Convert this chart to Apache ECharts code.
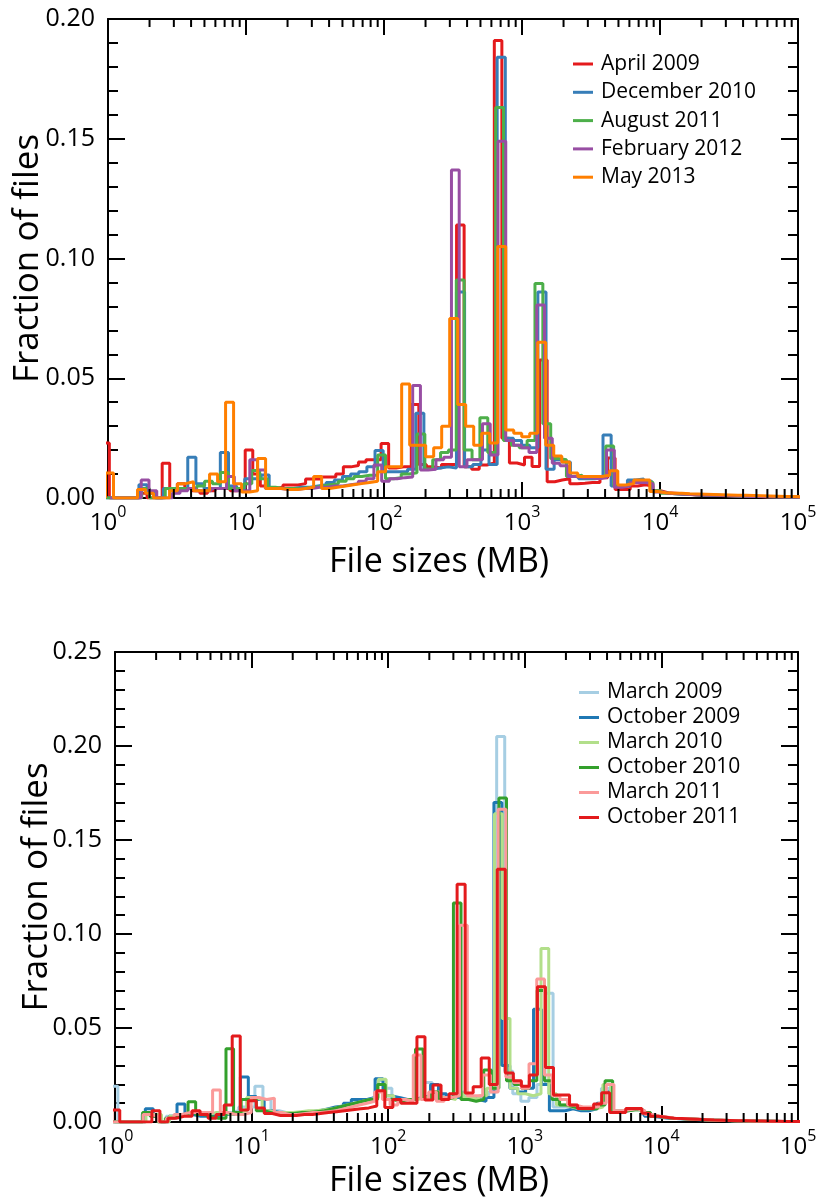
<!DOCTYPE html>
<html>
<head>
<meta charset="utf-8">
<script src="https://cdn.jsdelivr.net/npm/echarts@6/dist/echarts.min.js"></script>
<style>
  html, body { margin: 0; padding: 0; background: #fff; }
  #chart { width: 821px; height: 1203px; }
</style>
</head>
<body>
<div id="chart"></div>
<script>
// ---- Upper panel: file-size histograms (fraction of files per log bin) ----
const topNames = ['April 2009', 'December 2010', 'August 2011', 'February 2012', 'May 2013'];
// first bin edge (log10 MB) and bin width (decades) of each histogram
const topBinStart = [-0.045, -0.012, -0.041, 0.016, -0.018];
const topBinWidth = [0.0547, 0.059, 0.057, 0.0562, 0.058];

const april2009 = [
  0.023, 0, 0, 0, 0, 0.002, 0, 0, 0.0145, 0.003,
  0.006, 0.004, 0.003, 0.002, 0.003, 0.004, 0.004, 0.003, 0.004, 0.020,
  0.010, 0.005, 0.004, 0.0045, 0.0054, 0.0054, 0.006, 0.0079, 0.0079, 0.0088,
  0.0088, 0.010, 0.013, 0.0136, 0.015, 0.016, 0.016, 0.0228, 0.0125, 0.013,
  0.013, 0.039, 0.014, 0.013, 0.0125, 0.014, 0.014, 0.114, 0.013, 0.012,
  0.0138, 0.0146, 0.191, 0.025, 0.0146, 0.0138, 0.017, 0.0132, 0.0576, 0.0068,
  0.0075, 0.008, 0.006, 0.0062, 0.0065, 0.0065, 0.0085, 0.0167, 0.0035, 0.0035,
  0.005, 0.0055, 0.005, 0.003, 0.0022, 0.002, 0.0018, 0.0015, 0.0013, 0.0012,
  0.001, 0.001, 0.0009, 0.0008, 0.0007, 0.0006, 0.0006, 0.0005, 0.0005, 0.0004,
  0.0004, 0.0003
];
const december2010 = [
  0, 0, 0, 0, 0.0055, 0.002, 0, 0.004, 0.003, 0.004,
  0.017, 0.006, 0.004, 0.004, 0.019, 0.005, 0.004, 0.008, 0.008, 0.0096,
  0.004, 0.004, 0.004, 0.0045, 0.0045, 0.005, 0.0055, 0.0065, 0.0075, 0.009,
  0.010, 0.011, 0.013, 0.0198, 0.011, 0.011, 0.011, 0.012, 0.0354, 0.012,
  0.0125, 0.013, 0.0125, 0.086, 0.013, 0.014, 0.020, 0.014, 0.184, 0.025,
  0.024, 0.022, 0.021, 0.086, 0.012, 0.016, 0.015, 0.009, 0.008, 0.008,
  0.0085, 0.0263, 0.005, 0.005, 0.0075, 0.0079, 0.007, 0.0027, 0.002, 0.0018,
  0.0016, 0.0015, 0.0013, 0.0012, 0.0011, 0.001, 0.0009, 0.0008, 0.0007, 0.0006,
  0.0006, 0.0005, 0.0005, 0.0004, 0.0004
];
const august2011 = [
  0, 0, 0, 0, 0, 0.004, 0, 0, 0.004, 0.004,
  0.004, 0.004, 0.005, 0.007, 0.006, 0.0106, 0.004, 0.004, 0.006, 0.0115,
  0.008, 0.0045, 0.004, 0.004, 0.004, 0.0042, 0.0045, 0.005, 0.0055, 0.006,
  0.007, 0.008, 0.009, 0.0095, 0.0095, 0.018, 0.008, 0.0085, 0.010, 0.0105,
  0.0267, 0.012, 0.016, 0.019, 0.020, 0.091, 0.020, 0.016, 0.0335, 0.019,
  0.163, 0.024, 0.022, 0.021, 0.024, 0.0896, 0.031, 0.0165, 0.016, 0.009,
  0.0095, 0.0085, 0.0085, 0.009, 0.0217, 0.005, 0.005, 0.0065, 0.007, 0.0065,
  0.003, 0.002, 0.0018, 0.0016, 0.0015, 0.0013, 0.0012, 0.0011, 0.001, 0.0009,
  0.0008, 0.0007, 0.0006, 0.0006, 0.0005, 0.0005, 0.0004, 0.0004, 0.0003
];
const february2012 = [
  0, 0, 0, 0, 0.0075, 0.003, 0, 0, 0.002, 0.003,
  0.004, 0.003, 0.003, 0.004, 0.004, 0.009, 0.003, 0.003, 0.016, 0.0117,
  0.004, 0.004, 0.0035, 0.0035, 0.004, 0.004, 0.0045, 0.0045, 0.005, 0.005,
  0.0055, 0.006, 0.007, 0.008, 0.0138, 0.007, 0.008, 0.0085, 0.0088, 0.047,
  0.0117, 0.012, 0.016, 0.017, 0.137, 0.013, 0.016, 0.016, 0.031, 0.018,
  0.149, 0.024, 0.022, 0.021, 0.019, 0.0806, 0.025, 0.0145, 0.0135, 0.009,
  0.0085, 0.0085, 0.008, 0.0085, 0.020, 0.0045, 0.005, 0.0065, 0.0065, 0.006,
  0.0025, 0.002, 0.0018, 0.0016, 0.0015, 0.0013, 0.0012, 0.0011, 0.001, 0.0009,
  0.0008, 0.0007, 0.0006, 0.0006, 0.0005, 0.0005, 0.0004, 0.0004, 0.0003
];
const may2013 = [
  0.0104, 0, 0, 0, 0.0035, 0.002, 0, 0, 0.003, 0.006,
  0.0068, 0.003, 0.003, 0.010, 0.0068, 0.040, 0.006, 0.0025, 0.003, 0.0165,
  0.004, 0.004, 0.0035, 0.0035, 0.004, 0.0045, 0.009, 0.004, 0.0045, 0.005,
  0.0055, 0.006, 0.0065, 0.007, 0.011, 0.013, 0.013, 0.0476, 0.022, 0.022,
  0.0172, 0.021, 0.030, 0.075, 0.039, 0.030, 0.022, 0.027, 0.023, 0.105,
  0.0284, 0.027, 0.0256, 0.027, 0.065, 0.022, 0.0175, 0.015, 0.0104, 0.009,
  0.009, 0.009, 0.0095, 0.0114, 0.0054, 0.006, 0.0075, 0.0075, 0.0027, 0.0022,
  0.002, 0.002, 0.0018, 0.0017, 0.0016, 0.0015, 0.0014, 0.0013, 0.0012, 0.0011,
  0.001, 0.0009, 0.0008, 0.0007, 0.0006, 0.0006, 0.0005
];
const topValues = [april2009, december2010, august2011, february2012, may2013];
const topColors = ['#e41a1c', '#377eb8', '#4daf4a', '#984ea3', '#ff7f00'];

// ---- Lower panel ----
const bottomNames = ['March 2009', 'October 2009', 'March 2010', 'October 2010', 'March 2011', 'October 2011'];
const bottomBinStart = [-0.038, -0.01, 0.0, -0.02, -0.02, -0.024];
const bottomBinWidth = [0.059, 0.058, 0.0567, 0.0555, 0.0565, 0.0588];

const march2009 = [
  0.019, 0, 0, 0, 0.004, 0.004, 0, 0.003, 0.004, 0.004,
  0.005, 0.004, 0.004, 0.005, 0.005, 0.006, 0.008, 0.008, 0.019, 0.012,
  0.006, 0.005, 0.005, 0.005, 0.0055, 0.006, 0.0065, 0.0075, 0.008, 0.0095,
  0.011, 0.012, 0.013, 0.022, 0.018, 0.013, 0.012, 0.012, 0.013, 0.021,
  0.016, 0.014, 0.015, 0.016, 0.013, 0.012, 0.014, 0.016, 0.205, 0.027,
  0.015, 0.011, 0.013, 0.020, 0.0685, 0.008, 0.008, 0.007, 0.007, 0.007,
  0.008, 0.018, 0.006, 0.006, 0.0065, 0.0065, 0.004, 0.003, 0.0025, 0.002,
  0.0018, 0.0016, 0.0014, 0.0012, 0.001, 0.0009, 0.0008, 0.0007, 0.0006, 0.0005,
  0.0005, 0.0004, 0.0004, 0.0003, 0.0003, 0.0002
];
const october2009 = [
  0, 0, 0, 0, 0.007, 0.003, 0, 0.003, 0.0096, 0.004,
  0.003, 0.003, 0.003, 0.004, 0.004, 0.004, 0.024, 0.0135, 0.012, 0.006,
  0.005, 0.005, 0.005, 0.005, 0.0055, 0.006, 0.007, 0.008, 0.0085, 0.010,
  0.012, 0.012, 0.013, 0.023, 0.014, 0.013, 0.012, 0.012, 0.013, 0.014,
  0.020, 0.015, 0.013, 0.013, 0.013, 0.012, 0.011, 0.013, 0.170, 0.030,
  0.018, 0.016, 0.018, 0.060, 0.020, 0.006, 0.006, 0.007, 0.006, 0.006,
  0.007, 0.010, 0.016, 0.006, 0.006, 0.007, 0.006, 0.003, 0.0025, 0.002,
  0.0018, 0.0016, 0.0014, 0.0012, 0.001, 0.0009, 0.0008, 0.0007, 0.0006, 0.0005,
  0.0005, 0.0004, 0.0004, 0.0003, 0.0003, 0.0002, 0.0002
];
const march2010 = [
  0, 0, 0, 0, 0.004, 0.004, 0, 0.003, 0.004, 0.005,
  0.005, 0.004, 0.005, 0.005, 0.004, 0.005, 0.006, 0.013, 0.012, 0.006,
  0.005, 0.005, 0.005, 0.0055, 0.006, 0.006, 0.0065, 0.007, 0.008, 0.009,
  0.010, 0.011, 0.012, 0.013, 0.0228, 0.014, 0.012, 0.012, 0.012, 0.013,
  0.014, 0.016, 0.013, 0.012, 0.015, 0.013, 0.012, 0.014, 0.018, 0.164,
  0.055, 0.018, 0.015, 0.014, 0.015, 0.0923, 0.015, 0.009, 0.008, 0.007,
  0.007, 0.007, 0.008, 0.020, 0.006, 0.006, 0.0065, 0.0065, 0.005, 0.003,
  0.0025, 0.002, 0.0018, 0.0016, 0.0014, 0.0012, 0.001, 0.0009, 0.0008, 0.0007,
  0.0006, 0.0005, 0.0005, 0.0004, 0.0004, 0.0003, 0.0003, 0.0002, 0.0002
];
const october2010 = [
  0, 0, 0, 0, 0.005, 0.003, 0, 0.002, 0.003, 0.004,
  0.0108, 0.004, 0.003, 0.002, 0.002, 0.039, 0.005, 0.012, 0.012, 0.006,
  0.005, 0.004, 0.0045, 0.0045, 0.005, 0.005, 0.0055, 0.006, 0.007, 0.008,
  0.009, 0.010, 0.011, 0.012, 0.012, 0.020, 0.012, 0.011, 0.012, 0.012,
  0.0388, 0.012, 0.016, 0.012, 0.013, 0.1165, 0.012, 0.011, 0.012, 0.0276,
  0.018, 0.1723, 0.022, 0.020, 0.018, 0.022, 0.070, 0.022, 0.012, 0.009,
  0.008, 0.007, 0.007, 0.007, 0.009, 0.022, 0.005, 0.006, 0.0065, 0.0065,
  0.005, 0.003, 0.0025, 0.002, 0.0018, 0.0016, 0.0014, 0.0012, 0.001, 0.0009,
  0.0008, 0.0007, 0.0006, 0.0005, 0.0005, 0.0004, 0.0004, 0.0003, 0.0003, 0.0002,
  0.0002
];
const march2011 = [
  0, 0, 0, 0, 0.004, 0.003, 0, 0.002, 0.004, 0.005,
  0.005, 0.005, 0.005, 0.017, 0.005, 0.004, 0.004, 0.005, 0.013, 0.012,
  0.0127, 0.005, 0.004, 0.004, 0.0045, 0.005, 0.005, 0.0055, 0.006, 0.007,
  0.008, 0.009, 0.010, 0.011, 0.016, 0.012, 0.009, 0.012, 0.011, 0.0356,
  0.012, 0.016, 0.011, 0.013, 0.014, 0.1047, 0.014, 0.014, 0.025, 0.016,
  0.1663, 0.024, 0.021, 0.018, 0.031, 0.076, 0.025, 0.014, 0.012, 0.009,
  0.008, 0.008, 0.008, 0.010, 0.020, 0.006, 0.0065, 0.007, 0.006, 0.004,
  0.003, 0.0025, 0.002, 0.0018, 0.0016, 0.0014, 0.0012, 0.001, 0.0009, 0.0008,
  0.0007, 0.0006, 0.0005, 0.0005, 0.0004, 0.0004, 0.0003, 0.0003, 0.0002
];
const october2011 = [
  0.0064, 0, 0, 0, 0, 0.006, 0, 0.002, 0.003, 0.003,
  0.006, 0.004, 0.002, 0.004, 0.009, 0.0457, 0.0064, 0.0113, 0.0075, 0.0045,
  0.0035, 0.0035, 0.0035, 0.004, 0.004, 0.0045, 0.005, 0.0055, 0.006, 0.0065,
  0.007, 0.0075, 0.0085, 0.0166, 0.0077, 0.012, 0.010, 0.010, 0.0453, 0.0117,
  0.0197, 0.012, 0.015, 0.1265, 0.0154, 0.0188, 0.034, 0.020, 0.1344, 0.026,
  0.022, 0.019, 0.025, 0.072, 0.029, 0.0143, 0.0143, 0.009, 0.0072, 0.0072,
  0.0096, 0.0156, 0.005, 0.005, 0.0072, 0.0072, 0.0046, 0.003, 0.0025, 0.002,
  0.0018, 0.0016, 0.0014, 0.0012, 0.001, 0.0009, 0.0008, 0.0007, 0.0006, 0.0005,
  0.0005, 0.0004, 0.0004, 0.0003, 0.0003, 0.0002
];
const bottomValues = [march2009, october2009, march2010, october2010, march2011, october2011];
const bottomColors = ['#a6cee3', '#1f78b4', '#b2df8a', '#33a02c', '#fb9a99', '#e31a1c'];

// decade tick values and the 2..9 sub-ticks between them
const decadeTicks = [1, 10, 100, 1000, 10000, 100000];
const minorLogTicks = [];
decadeTicks.slice(0, -1).forEach(d => { for (let m = 2; m <= 9; m++) minorLogTicks.push(d * m); });

const FONT = 'Open Sans';

// Outline of a histogram: horizontal run over every bin, verticals between bins.
function stepOutline(values, start, width) {
  const pts = [[Math.pow(10, start), 0]];
  values.forEach((v, k) => {
    pts.push([Math.pow(10, start + k * width), v]);
    pts.push([Math.pow(10, start + (k + 1) * width), v]);
  });
  pts.push([Math.pow(10, start + values.length * width), 0]);
  return pts;
}

function histSeries(names, values, starts, widths, colors, axisIdx) {
  return names.map((name, i) => ({
    name: name,
    type: 'line',
    xAxisIndex: axisIdx,
    yAxisIndex: axisIdx,
    data: stepOutline(values[i], starts[i], widths[i]),
    showSymbol: false,
    symbol: 'none',
    clip: true,
    lineStyle: { color: colors[i], width: 3 },
    itemStyle: { color: colors[i] },
    z: 2 + i
  }));
}

function minorTickSeries(axisIdx) {
  return {
    type: 'custom',
    xAxisIndex: axisIdx,
    yAxisIndex: axisIdx,
    silent: true,
    clip: false,
    z: 20,
    encode: { x: 0, y: 1 },
    data: minorLogTicks.map(v => [v, 0]),
    renderItem: function (params, api) {
      const x = api.coord([api.value(0), 0])[0];
      const cs = params.coordSys;
      const b = cs.y + cs.height;
      return {
        type: 'group',
        children: [
          { type: 'line', shape: { x1: x, y1: b, x2: x, y2: b - 9 }, style: { stroke: '#000', lineWidth: 2 } },
          { type: 'line', shape: { x1: x, y1: cs.y, x2: x, y2: cs.y + 8 }, style: { stroke: '#000', lineWidth: 2 } }
        ]
      };
    }
  };
}

const axisLine = { show: true, onZero: false, lineStyle: { color: '#000', width: 2 } };

function xAxes(gridIndex, nameGap, namePad) {
  return [
    {
      type: 'log', logBase: 10, gridIndex: gridIndex, position: 'bottom',
      min: 1, max: 100000, splitNumber: 5,
      axisLine: axisLine,
      axisTick: { show: true, inside: true, length: 16, lineStyle: { color: '#000', width: 2 } },
      minorTick: { show: false },
      splitLine: { show: false },
      axisLabel: {
        margin: 6,
        formatter: function (v) {
          return '{b|10}{e|' + Math.round(Math.log10(v)) + '}';
        },
        rich: {
          b: { fontFamily: FONT, fontSize: 24, color: '#000', lineHeight: 30, padding: [8, 0, 0, 0] },
          e: { fontFamily: FONT, fontSize: 16, color: '#000', lineHeight: 16, verticalAlign: 'top' }
        }
      },
      name: 'File sizes (MB)',
      nameLocation: 'middle',
      nameGap: nameGap,
      nameMoveOverlap: false,
      nameTextStyle: { fontFamily: FONT, fontSize: 34, color: '#000', padding: [0, namePad, 0, 0] }
    },
    {
      type: 'log', logBase: 10, gridIndex: gridIndex, position: 'top',
      min: 1, max: 100000, splitNumber: 5,
      axisLine: axisLine,
      axisTick: { show: true, inside: true, length: 16, lineStyle: { color: '#000', width: 2 } },
      axisLabel: { show: false },
      splitLine: { show: false }
    }
  ];
}

function yAxes(gridIndex, max, nameGap) {
  const tick = { show: true, inside: true, length: 17, lineStyle: { color: '#000', width: 2 } };
  const minor = { show: true, splitNumber: 5, length: 10, lineStyle: { color: '#000', width: 2 } };
  return [
    {
      type: 'value', gridIndex: gridIndex, position: 'left',
      min: 0, max: max, interval: 0.05,
      axisLine: axisLine, axisTick: tick, minorTick: minor,
      splitLine: { show: false }, minorSplitLine: { show: false },
      axisLabel: {
        margin: 13, fontFamily: FONT, fontSize: 25, color: '#000',
        formatter: v => v.toFixed(2)
      },
      name: 'Fraction of files',
      nameLocation: 'middle',
      nameGap: nameGap,
      nameMoveOverlap: false,
      nameTextStyle: { fontFamily: FONT, fontSize: 35, color: '#000' }
    },
    {
      type: 'value', gridIndex: gridIndex, position: 'right',
      min: 0, max: max, interval: 0.05,
      axisLine: axisLine, axisTick: tick, minorTick: minor,
      splitLine: { show: false }, minorSplitLine: { show: false },
      axisLabel: { show: false }
    }
  ];
}

const topX = xAxes(0, 47, 28);
const botX = xAxes(1, 42, 35);
const topY = yAxes(0, 0.2, 62);
const botY = yAxes(1, 0.25, 60);

const legendText = { fontFamily: FONT, fontSize: 21, color: '#000', padding: [0, 0, 0, 3] };

const option = {
  animation: false,
  backgroundColor: '#fff',
  textStyle: { fontFamily: FONT },
  grid: [
    { left: 108, right: 23, top: 19, height: 479, containLabel: false, outerBoundsMode: 'none' },
    { left: 115, right: 23, top: 652, height: 470, containLabel: false, outerBoundsMode: 'none' }
  ],
  xAxis: [topX[0], topX[1], botX[0], botX[1]],
  yAxis: [topY[0], topY[1], botY[0], botY[1]],
  legend: [
    {
      data: topNames, orient: 'vertical', left: 568, top: 47,
      icon: 'rect', itemWidth: 20, itemHeight: 3, itemGap: 4.3,
      textStyle: Object.assign({ lineHeight: 24 }, legendText),
      selectedMode: false
    },
    {
      data: bottomNames, orient: 'vertical', left: 574, top: 676,
      icon: 'rect', itemWidth: 20, itemHeight: 3, itemGap: 2,
      textStyle: Object.assign({ lineHeight: 23 }, legendText),
      selectedMode: false
    }
  ],
  series: [].concat(
    histSeries(topNames, topValues, topBinStart, topBinWidth, topColors, 0),
    [minorTickSeries(0)],
    histSeries(bottomNames, bottomValues, bottomBinStart, bottomBinWidth, bottomColors, 2),
    [minorTickSeries(2)]
  )
};

const chart = echarts.init(document.getElementById('chart'), null, { renderer: 'canvas' });
chart.setOption(option);
</script>
</body>
</html>
